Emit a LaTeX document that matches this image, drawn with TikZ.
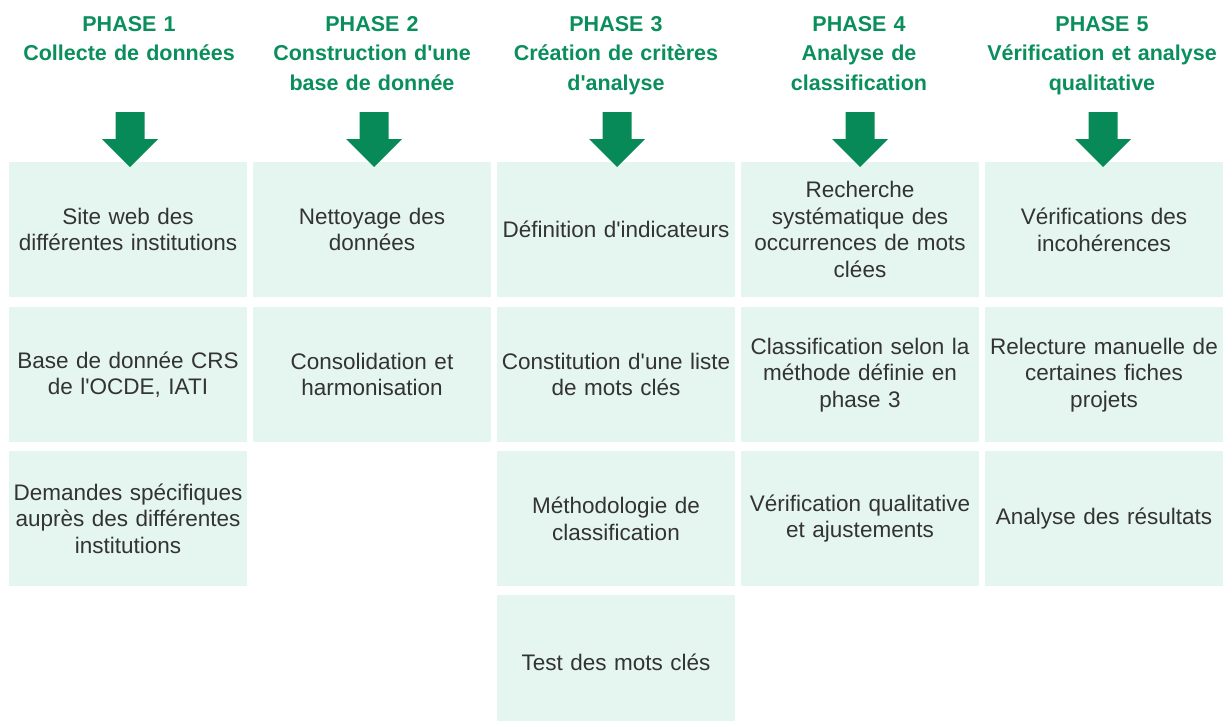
\documentclass[tikz,border=0pt]{standalone}
\usepackage{fontspec}
\setmainfont{Liberation Sans}[Ligatures=TeXOff]
\definecolor{hgreen}{HTML}{0A8F5C}
\definecolor{agreen}{HTML}{078A57}
\definecolor{boxfill}{HTML}{E5F5EF}
\definecolor{btext}{HTML}{333333}
\begin{document}
\begin{tikzpicture}[x=1pt,y=-1pt,
  cell/.style={fill=boxfill,draw=none,minimum width=238pt,minimum height=135pt,inner sep=0pt,anchor=north,
    text=btext,font=\fontsize{22.5}{26.5}\selectfont,align=center,text width=238pt},
  head/.style={anchor=north,text=hgreen,font=\bfseries\fontsize{21.5}{29.5}\selectfont,align=center,text width=240pt,inner sep=0pt},
  darrow/.style={fill=agreen,draw=none}]
\useasboundingbox (0,0) rectangle (1228,720);
\clip (0,0) rectangle (1228,720);
% headers
\node[head] (h1) at (129,16) {PHASE 1\\Collecte de données};
\node[head] (h2) at (372,16) {PHASE 2\\Construction d'une\\base de donnée};
\node[head] (h3) at (616,16) {PHASE 3\\Création de critères\\d'analyse};
\node[head] (h4) at (859,16) {PHASE 4\\Analyse de\\classification};
\node[head] (h5) at (1102,16) {PHASE 5\\Vérification et analyse\\qualitative};
% column 1
\node[cell] (c11) at (128,162) {Site web des\\différentes institutions};
\node[cell] (c12) at (128,307) {Base de donnée CRS\\de l'OCDE, IATI};
\node[cell] (c13) at (128,451) {Demandes spécifiques\\auprès des différentes\\institutions};
% column 2
\node[cell] (c21) at (372,162) {Nettoyage des\\données};
\node[cell] (c22) at (372,307) {Consolidation et\\harmonisation};
% column 3
\node[cell] (c31) at (616,162) {Définition d'indicateurs};
\node[cell] (c32) at (616,307) {Constitution d'une liste\\de mots clés};
\node[cell] (c33) at (616,451) {Méthodologie de\\classification};
\node[cell] (c34) at (616,595) {Test des mots clés};
% column 4
\node[cell] (c41) at (860,162) {Recherche\\systématique des\\occurrences de mots\\clées};
\node[cell] (c42) at (860,307) {Classification selon la\\méthode définie en\\phase 3};
\node[cell] (c43) at (860,451) {Vérification qualitative\\et ajustements};
% column 5
\node[cell] (c51) at (1104,162) {Vérifications des\\incohérences};
\node[cell] (c52) at (1104,307) {Relecture manuelle de\\certaines fiches\\projets};
\node[cell] (c53) at (1104,451) {Analyse des résultats};
% arrows (drawn on top)
\foreach \cx in {130,374,617,860,1103}{
  \fill[darrow] (\cx-14.5,112) -- (\cx+14.5,112) -- (\cx+14.5,139) -- (\cx+28,139) -- (\cx,167) -- (\cx-28,139) -- (\cx-14.5,139) -- cycle;
}
\end{tikzpicture}
\end{document}
